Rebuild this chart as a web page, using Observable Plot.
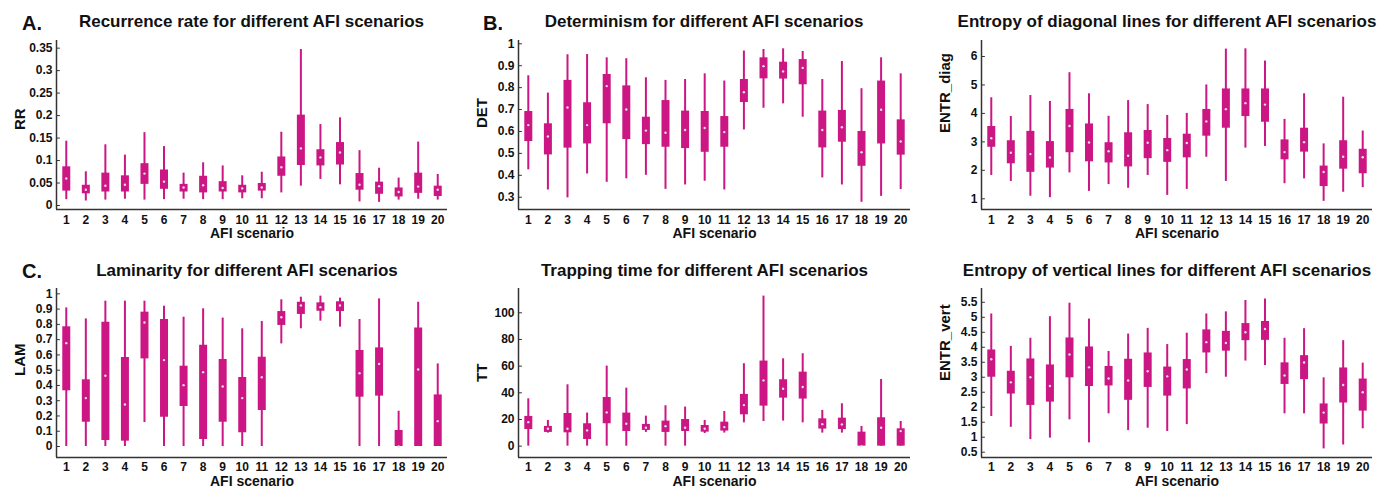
<!DOCTYPE html>
<html>
<head>
<meta charset="utf-8">
<script src="https://cdn.jsdelivr.net/npm/d3@7"></script>
<script src="https://cdn.jsdelivr.net/npm/@observablehq/plot@0.6"></script>
<style>
  html, body { margin: 0; padding: 0; background: #fff; }
  #root { position: relative; width: 1385px; height: 491px; overflow: hidden; font-family: "Liberation Sans", Arial, sans-serif; color: #111; }
  .panel { position: absolute; }
  .title { position: absolute; font-weight: bold; font-size: 17px; white-space: nowrap; transform: translate(-50%, -50%); line-height: 1; }
  .letter { position: absolute; font-weight: bold; font-size: 20px; white-space: nowrap; transform: translateY(-50%); line-height: 1; }
</style>
</head>
<body>
<div id="root"></div>
<script>
// AFI scenarios 1..20
const scenarios = d3.range(1, 21);
const xLabel = "AFI scenario";

// Each row: [lower whisker, Q1, median, Q3, upper whisker] per scenario
const RR = [
  [0.013, 0.032, 0.060, 0.086, 0.143], [0.010, 0.026, 0.035, 0.045, 0.075],
  [0.012, 0.030, 0.044, 0.072, 0.135], [0.014, 0.030, 0.046, 0.066, 0.112],
  [0.012, 0.047, 0.071, 0.093, 0.162], [0.013, 0.036, 0.053, 0.079, 0.131],
  [0.014, 0.030, 0.040, 0.047, 0.072], [0.013, 0.028, 0.045, 0.065, 0.095],
  [0.013, 0.030, 0.039, 0.053, 0.088], [0.015, 0.028, 0.038, 0.045, 0.066],
  [0.015, 0.032, 0.040, 0.049, 0.074], [0.028, 0.065, 0.085, 0.108, 0.163],
  [0.043, 0.089, 0.127, 0.201, 0.347], [0.058, 0.088, 0.107, 0.124, 0.180],
  [0.046, 0.090, 0.118, 0.140, 0.195], [0.008, 0.034, 0.046, 0.071, 0.122],
  [0.007, 0.025, 0.043, 0.052, 0.083], [0.012, 0.019, 0.030, 0.039, 0.061],
  [0.014, 0.027, 0.042, 0.072, 0.141], [0.012, 0.020, 0.035, 0.043, 0.069]
];
const DET = [
  [0.425, 0.554, 0.629, 0.691, 0.854], [0.333, 0.493, 0.577, 0.635, 0.775],
  [0.297, 0.524, 0.709, 0.833, 0.950], [0.406, 0.543, 0.629, 0.731, 0.951],
  [0.368, 0.635, 0.807, 0.860, 0.936], [0.384, 0.563, 0.700, 0.808, 0.932],
  [0.400, 0.540, 0.604, 0.665, 0.845], [0.336, 0.528, 0.594, 0.741, 0.833],
  [0.356, 0.522, 0.607, 0.693, 0.837], [0.373, 0.505, 0.616, 0.691, 0.863],
  [0.333, 0.528, 0.597, 0.668, 0.830], [0.607, 0.732, 0.779, 0.837, 0.967],
  [0.706, 0.840, 0.898, 0.936, 0.974], [0.726, 0.839, 0.874, 0.916, 0.977],
  [0.665, 0.813, 0.890, 0.928, 0.965], [0.388, 0.525, 0.607, 0.693, 0.837],
  [0.356, 0.551, 0.619, 0.696, 0.919], [0.277, 0.441, 0.505, 0.600, 0.795],
  [0.304, 0.543, 0.699, 0.830, 0.936], [0.335, 0.492, 0.554, 0.653, 0.863]
];
const ENTR_diag = [
  [1.82, 2.81, 3.13, 3.54, 4.55], [1.61, 2.23, 2.62, 3.04, 3.89],
  [1.09, 1.93, 2.57, 3.37, 4.63], [1.04, 2.08, 2.45, 3.01, 4.42],
  [1.91, 2.62, 3.56, 4.14, 5.43], [1.26, 2.30, 2.98, 3.63, 4.69],
  [1.50, 2.26, 2.67, 2.97, 3.90], [1.37, 2.12, 2.51, 3.32, 4.45],
  [1.82, 2.41, 2.97, 3.40, 4.31], [1.12, 2.28, 2.71, 3.12, 3.93],
  [1.33, 2.44, 2.96, 3.27, 4.00], [2.46, 3.20, 3.72, 4.14, 5.00],
  [1.61, 3.48, 4.15, 4.86, 6.26], [2.78, 3.89, 4.36, 4.86, 6.27],
  [2.84, 3.69, 4.31, 4.86, 5.84], [1.53, 2.37, 2.64, 3.07, 3.79],
  [1.70, 2.64, 2.99, 3.48, 4.69], [0.91, 1.43, 1.94, 2.15, 2.93],
  [1.23, 2.04, 2.48, 3.04, 4.57], [1.39, 1.88, 2.46, 2.74, 3.38]
];
const LAM = [
  [0.000, 0.365, 0.677, 0.784, 0.908], [0.000, 0.159, 0.317, 0.437, 0.836],
  [0.000, 0.039, 0.463, 0.814, 0.952], [0.000, 0.035, 0.275, 0.583, 0.952],
  [0.157, 0.574, 0.812, 0.880, 0.952], [0.000, 0.192, 0.566, 0.832, 0.919],
  [0.000, 0.262, 0.402, 0.526, 0.847], [0.000, 0.046, 0.487, 0.664, 0.902],
  [0.000, 0.159, 0.393, 0.570, 0.841], [0.000, 0.090, 0.317, 0.452, 0.771],
  [0.000, 0.236, 0.454, 0.585, 0.819], [0.672, 0.793, 0.847, 0.884, 0.961],
  [0.771, 0.865, 0.924, 0.945, 0.978], [0.821, 0.886, 0.913, 0.941, 0.985],
  [0.782, 0.884, 0.924, 0.948, 0.972], [0.000, 0.323, 0.480, 0.629, 0.832],
  [0.000, 0.330, 0.541, 0.646, 0.967], [0.000, 0.000, 0.000, 0.105, 0.231],
  [0.000, 0.000, 0.504, 0.777, 0.945], [0.000, 0.000, 0.166, 0.338, 0.541]
];
const TT = [
  [0, 12.5, 18.0, 22.3, 35.5], [9.8, 10.3, 13.0, 14.8, 19.3],
  [0, 10.0, 13.0, 24.5, 46.0], [0, 5.0, 11.8, 16.8, 24.8],
  [0, 16.8, 25.3, 36.5, 60.0], [0, 11.0, 16.8, 24.8, 43.5],
  [10.3, 11.8, 13.8, 16.3, 22.5], [0, 10.3, 15.0, 18.8, 30.3],
  [0, 11.0, 13.8, 20.0, 29.3], [9.5, 10.5, 13.0, 15.5, 19.3],
  [9.8, 11.3, 14.3, 18.0, 26.0], [17.5, 23.5, 30.8, 38.8, 61.8],
  [18.5, 30.0, 49.3, 63.8, 112.5], [18.8, 36.0, 43.0, 49.8, 65.5],
  [17.5, 35.3, 44.3, 55.5, 69.3], [9.8, 12.8, 16.5, 20.5, 26.8],
  [9.8, 12.5, 16.3, 21.0, 31.8], [0, 0, 0, 10.5, 14.8],
  [0, 0, 13.8, 21.3, 50.0], [0, 0, 11.3, 13.0, 18.5]
];
const ENTR_vert = [
  [1.69, 3.00, 3.60, 3.91, 5.11], [1.33, 2.44, 2.83, 3.20, 4.03],
  [0.92, 2.06, 3.00, 3.61, 4.30], [0.97, 2.17, 2.71, 3.41, 5.02],
  [1.58, 2.98, 3.76, 4.31, 5.47], [0.81, 2.69, 3.33, 4.01, 4.94],
  [1.78, 2.71, 2.96, 3.36, 3.86], [1.22, 2.23, 2.89, 3.60, 4.44],
  [1.30, 2.66, 3.20, 3.81, 4.63], [1.19, 2.37, 3.03, 3.34, 4.09],
  [1.42, 2.61, 3.26, 3.59, 4.47], [3.12, 3.81, 4.17, 4.58, 5.11],
  [3.00, 3.87, 4.14, 4.53, 5.18], [3.54, 4.22, 4.50, 4.79, 5.56],
  [3.39, 4.23, 4.61, 4.86, 5.61], [1.78, 2.76, 3.06, 3.48, 4.30],
  [1.78, 2.92, 3.49, 3.72, 4.62], [0.61, 1.44, 1.82, 2.11, 2.98],
  [0.74, 2.14, 2.74, 3.31, 4.22], [1.28, 1.87, 2.50, 2.94, 3.47]
];

// Tick labels
const ticksRR = [0, 0.05, 0.1, 0.15, 0.2, 0.25, 0.3, 0.35];
const ticksDET = [0.3, 0.4, 0.5, 0.6, 0.7, 0.8, 0.9, 1];
const ticksDiag = [1, 2, 3, 4, 5, 6];
const ticksLAM = [0, 0.1, 0.2, 0.3, 0.4, 0.5, 0.6, 0.7, 0.8, 0.9, 1];
const ticksTT = [0, 20, 40, 60, 80, 100];
const ticksVert = [0.5, 1, 1.5, 2, 2.5, 3, 3.5, 4, 4.5, 5, 5.5];

const titles = [
  "Recurrence rate for different AFI scenarios",
  "Determinism for different AFI scenarios",
  "Entropy of diagonal lines for different AFI scenarios",
  "Laminarity for different AFI scenarios",
  "Trapping time for different AFI scenarios",
  "Entropy of vertical lines for different AFI scenarios"
];
const letters = ["A.", "B.", "C."];

const COLOR = "#cb1683";
const AXIS = "#333";
const FONT = "'Liberation Sans', Arial, sans-serif";

const tickShape = { draw(context, l) { context.moveTo(0, 0); context.lineTo(0, -l); } };

function makePanel(cfg) {
  const rows = cfg.data.map((d, i) => ({x: scenarios[i], low: d[0], q1: d[1], med: d[2], q3: d[3], high: d[4]}));
  return Plot.plot({
    width: cfg.width, height: cfg.height,
    marginLeft: cfg.ml, marginRight: cfg.mr, marginTop: cfg.mt, marginBottom: cfg.mb,
    style: {fontFamily: FONT, fontWeight: "bold", fontSize: "12px", color: "#111", background: "transparent", overflow: "visible"},
    x: {domain: [0.5, 20.5]},
    y: {domain: cfg.yDomain},
    marks: [
      Plot.ruleX(rows, {x: "x", y1: "low", y2: "high", stroke: COLOR, strokeWidth: 2}),
      Plot.ruleX(rows, {x: "x", y1: "q1", y2: "q3", stroke: COLOR, strokeWidth: 8}),
      Plot.dot(rows, {x: "x", y: "med", r: 1.2, fill: "#e4e4e4", stroke: null}),
      Plot.axisX(scenarios, {tickSize: 0, tickPadding: cfg.xtp, label: null, tickFormat: d => String(d), fontSize: 12, fontWeight: "bold", fill: "#111"}),
      Plot.axisY(cfg.ticks, {tickSize: 0, tickPadding: 4, label: null, tickFormat: d => String(d), fontSize: 12, fontWeight: "bold", fill: "#111"}),
      Plot.vector(cfg.ticks, {y: d => d, frameAnchor: "left", length: 3, rotate: 90, anchor: "start", shape: tickShape, stroke: AXIS, strokeWidth: 1}),
      Plot.ruleX([0.5], {stroke: AXIS, strokeWidth: 1.5}),
      Plot.ruleY([cfg.yDomain[0]], {stroke: AXIS, strokeWidth: 1.5}),
      Plot.text([xLabel], {text: d => d, frameAnchor: "bottom", dy: cfg.xlDy, fontSize: 14, fontWeight: "bold", fill: "#111"}),
      Plot.text([cfg.yLabel], {text: d => d, frameAnchor: "left", dx: -36, dy: cfg.ylDy, rotate: -90, fontSize: 15, fontWeight: "bold", fill: "#111"})
    ]
  });
}

const root = document.getElementById("root");
const row1 = {top: 0, height: 245, mt: 40, mb: 36, xlDy: 28, xtp: 6};
const row2 = {top: 245, height: 246, mt: 43, mb: 34, xlDy: 28, xtp: 5};
const cols = [{left: 0, ml: 56, mr: 13}, {left: 462, ml: 56, mr: 12}, {left: 925, ml: 56, mr: 13}];

const panels = [
  {data: RR, yDomain: [-0.0089, 0.367], ticks: ticksRR, yLabel: "RR", ylDy: 5, row: row1, col: cols[0]},
  {data: DET, yDomain: [0.244, 1.015], ticks: ticksDET, yLabel: "DET", ylDy: 3, row: row1, col: cols[1]},
  {data: ENTR_diag, yDomain: [0.624, 6.562], ticks: ticksDiag, yLabel: "ENTR_diag", ylDy: 8, row: row1, col: cols[2]},
  {data: LAM, yDomain: [-0.072, 1.035], ticks: ticksLAM, yLabel: "LAM", ylDy: 3, row: row2, col: cols[0]},
  {data: TT, yDomain: [-8.5, 118.2], ticks: ticksTT, yLabel: "TT", ylDy: 9, row: row2, col: cols[1]},
  {data: ENTR_vert, yDomain: [0.323, 5.96], ticks: ticksVert, yLabel: "ENTR_vert", ylDy: 8, row: row2, col: cols[2]}
];

panels.forEach(p => {
  const div = document.createElement("div");
  div.className = "panel";
  div.style.left = p.col.left + "px";
  div.style.top = p.row.top + "px";
  div.appendChild(makePanel({
    data: p.data, yDomain: p.yDomain, ticks: p.ticks, yLabel: p.yLabel, ylDy: p.ylDy,
    width: 460, height: p.row.height, ml: p.col.ml, mr: p.col.mr, mt: p.row.mt, mb: p.row.mb,
    xlDy: p.row.xlDy, xtp: p.row.xtp
  }));
  root.appendChild(div);
});

const titlePos = [[251.5, 21], [704, 21], [1167, 21], [247, 270], [704.5, 270], [1167, 270]];
titles.forEach((t, i) => {
  const d = document.createElement("div");
  d.className = "title";
  d.textContent = t;
  d.style.left = titlePos[i][0] + "px";
  d.style.top = titlePos[i][1] + "px";
  root.appendChild(d);
});
const letterPos = [[22, 23], [483, 23], [22, 271]];
letters.forEach((t, i) => {
  const d = document.createElement("div");
  d.className = "letter";
  d.textContent = t;
  d.style.left = letterPos[i][0] + "px";
  d.style.top = letterPos[i][1] + "px";
  root.appendChild(d);
});
</script>
</body>
</html>
